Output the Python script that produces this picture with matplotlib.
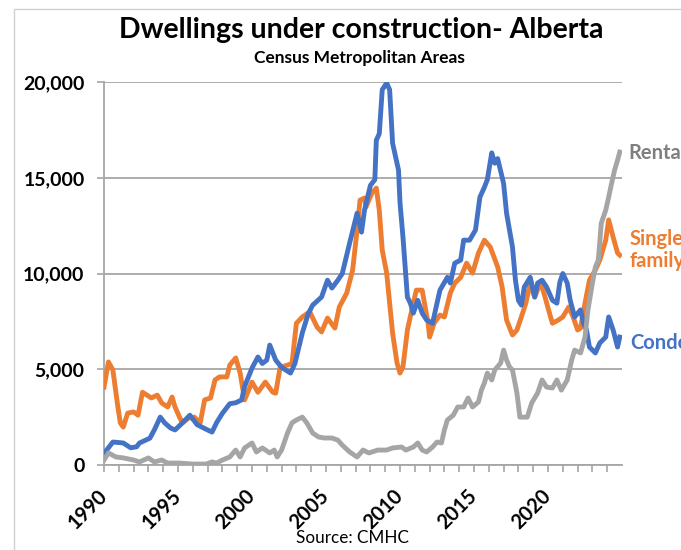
import matplotlib
matplotlib.use('Agg')
import matplotlib.pyplot as plt
from matplotlib.patches import Rectangle

plt.rcParams['font.family'] = ['Lato', 'DejaVu Sans']

# values (decimal year, dwellings)
condo_years = [1990.0, 1990.6, 1991.3, 1991.8, 1992.2, 1992.4, 1993.1, 1993.4, 1993.8, 1994.1,
               1994.5, 1994.8, 1995.3, 1995.8, 1996.3, 1997.0, 1997.3, 1997.6, 1998.0, 1998.5,
               1998.9, 1999.3, 1999.5, 2000.0, 2000.4, 2000.7, 2001.0, 2001.2, 2001.6, 2002.0,
               2002.6, 2002.9, 2003.4, 2003.8, 2004.1, 2004.7, 2005.1, 2005.4, 2005.8, 2006.1,
               2006.6, 2007.1, 2007.4, 2007.6, 2008.0, 2008.3, 2008.4, 2008.6, 2008.8, 2009.1,
               2009.3, 2009.5, 2009.9, 2010.0, 2010.2, 2010.5, 2010.7, 2010.9, 2011.2, 2011.5,
               2011.8, 2012.2, 2012.5, 2012.7, 2013.2, 2013.4, 2013.7, 2014.1, 2014.3, 2014.7,
               2015.1, 2015.4, 2015.7, 2015.9, 2016.2, 2016.4, 2016.6, 2017.0, 2017.2, 2017.6,
               2017.8, 2018.0, 2018.2, 2018.4, 2018.8, 2019.1, 2019.3, 2019.6, 2019.9, 2020.3,
               2020.6, 2020.8, 2021.0, 2021.3, 2021.5, 2021.8, 2022.2, 2022.4, 2022.6, 2022.8,
               2023.2, 2023.5, 2023.9, 2024.1, 2024.4, 2024.7, 2024.85]
condo = [600, 1200, 1150, 900, 950, 1150, 1400, 1830, 2500, 2200,
         1930, 1830, 2200, 2600, 2100, 1830, 1720, 2200, 2700, 3200,
         3250, 3400, 4100, 5060, 5640, 5300, 5480, 6260, 5480, 5100,
         4800, 5300, 6900, 7900, 8350, 8770, 9650, 9240, 9650, 10000,
         11600, 13150, 12160, 13300, 14600, 14900, 16960, 17300, 19600, 19940,
         19600, 16800, 15400, 13700, 11900, 8770, 8450, 7930, 8600, 7930,
         7570, 7400, 8450, 9130, 9800, 9500, 10540, 10700, 11740, 11740,
         12270, 13990, 14500, 14900, 16300, 15760, 16000, 14700, 13150, 11380,
         9650, 8600, 8350, 9300, 9800, 8770, 9500, 9650, 9300, 8600,
         8450, 9550, 10000, 9500, 8600, 7730, 8100, 7400, 7050, 6160,
         5850, 6370, 6680, 7730, 7050, 6160, 6680]

single_years = [1990.0, 1990.3, 1990.6, 1990.9, 1991.1, 1991.3, 1991.6, 1992.0, 1992.3, 1992.6,
                1992.9, 1993.2, 1993.6, 1993.9, 1994.3, 1994.6, 1994.8, 1995.1, 1995.3, 1995.7,
                1996.1, 1996.5, 1996.8, 1997.2, 1997.5, 1997.8, 1998.3, 1998.5, 1998.9, 1999.2,
                1999.5, 2000.0, 2000.4, 2000.9, 2001.4, 2001.6, 2001.9, 2002.4, 2002.7, 2003.0,
                2003.4, 2003.9, 2004.4, 2004.7, 2005.1, 2005.6, 2005.9, 2006.4, 2006.8, 2007.1,
                2007.3, 2007.6, 2007.7, 2008.1, 2008.4, 2008.6, 2008.8, 2009.1, 2009.3, 2009.5,
                2009.8, 2010.0, 2010.2, 2010.5, 2010.8, 2011.1, 2011.5, 2011.7, 2011.9, 2012.0,
                2012.3, 2012.7, 2013.0, 2013.4, 2013.7, 2014.1, 2014.5, 2014.9, 2015.3, 2015.7,
                2016.1, 2016.6, 2016.9, 2017.2, 2017.6, 2017.9, 2018.2, 2018.5, 2018.8, 2019.1,
                2019.5, 2019.8, 2020.1, 2020.3, 2020.7, 2021.0, 2021.4, 2021.7, 2022.0, 2022.2,
                2022.5, 2022.8, 2023.2, 2023.5, 2023.9, 2024.1, 2024.4, 2024.7, 2024.85]
single = [4070, 5380, 4960, 3240, 2200, 1980, 2710, 2770, 2600, 3800,
          3650, 3500, 3650, 3240, 3030, 3550, 3030, 2500, 2200, 2450,
          2500, 2200, 3400, 3500, 4440, 4600, 4600, 5220, 5590, 4800,
          3400, 4330, 3800, 4330, 3800, 3750, 5100, 5220, 5300, 7400,
          7730, 8000, 7200, 6950, 7670, 7150, 8250, 8980, 10180, 12270,
          13830, 13940, 13470, 14200, 14460, 13300, 11220, 10020, 8450, 6890,
          5320, 4800, 5120, 7050, 8100, 9130, 9130, 8250, 7400, 6680,
          7400, 7830, 7730, 8980, 9500, 9800, 10540, 10020, 11070, 11740,
          11380, 10340, 9300, 7570, 6790, 7050, 7730, 8450, 9500, 8770,
          9550, 8770, 7930, 7400, 7570, 7730, 8250, 7730, 7050, 7150,
          8450, 9650, 10180, 10700, 11740, 12800, 11900, 11070, 10960]

rental_years = [1990.0, 1990.3, 1990.8, 1991.3, 1992.0, 1992.4, 1993.0, 1993.4, 1993.9, 1994.3,
                1995.1, 1996.0, 1996.9, 1997.3, 1997.6, 1998.0, 1998.5, 1998.9, 1999.2, 1999.5,
                2000.0, 2000.3, 2000.7, 2001.2, 2001.5, 2001.7, 2002.0, 2002.4, 2002.7, 2003.0,
                2003.4, 2003.7, 2004.1, 2004.5, 2004.9, 2005.4, 2005.8, 2006.1, 2006.6, 2007.1,
                2007.5, 2007.9, 2008.5, 2009.1, 2009.5, 2010.1, 2010.4, 2010.9, 2011.2, 2011.5,
                2011.8, 2012.2, 2012.5, 2012.8, 2013.0, 2013.2, 2013.6, 2013.9, 2014.3, 2014.6,
                2014.9, 2015.3, 2015.5, 2015.7, 2015.9, 2016.2, 2016.4, 2016.8, 2017.0, 2017.2,
                2017.4, 2017.6, 2017.9, 2018.1, 2018.6, 2018.9, 2019.3, 2019.6, 2019.9, 2020.3,
                2020.6, 2020.9, 2021.3, 2021.6, 2021.8, 2022.2, 2022.5, 2022.7, 2023.0, 2023.2,
                2023.4, 2023.6, 2023.9, 2024.1, 2024.3, 2024.5, 2024.7, 2024.85]
rental = [260, 630, 420, 370, 260, 160, 370, 160, 260, 100,
          100, 50, 50, 160, 100, 260, 420, 780, 420, 890,
          1150, 680, 890, 630, 780, 420, 780, 1670, 2200, 2350,
          2500, 2200, 1670, 1460, 1410, 1410, 1300, 1040, 680, 420,
          780, 630, 780, 780, 890, 940, 780, 940, 1150, 780,
          680, 940, 1200, 1150, 1830, 2350, 2600, 3030, 3030, 3500,
          3030, 3290, 3910, 4280, 4800, 4440, 4960, 5320, 6000, 5480,
          5120, 4960, 3760, 2500, 2500, 3240, 3760, 4440, 4070, 4020,
          4440, 3910, 4440, 5480, 6000, 5850, 6680, 8100, 9500, 10340,
          10700, 12630, 13300, 13990, 14720, 15400, 15920, 16340]

yticks = [0, 5000, 10000, 15000, 20000]
xlabel_years = [1990, 1995, 2000, 2005, 2010, 2015, 2020]

blue = '#4472C4'
orange = '#ED7D31'
gray = '#A5A5A5'
gridc = '#A6A6A6'

fig = plt.figure(figsize=(6.81, 5.5), dpi=100)
fig.patches.append(Rectangle((14 / 681, -0.1), 1.2, 1 - 9 / 550 + 0.1, transform=fig.transFigure,
                             fill=False, edgecolor='#D0D0D0', linewidth=1.0))
ax = fig.add_axes([104 / 681, 1 - 465 / 550, (622 - 104) / 681, (465 - 82) / 550])

ax.plot(single_years, single, color=orange, lw=3.5, solid_joinstyle='round', zorder=3)
ax.plot(condo_years, condo, color=blue, lw=3.5, solid_joinstyle='round', zorder=3)
ax.plot(rental_years, rental, color=gray, lw=3.5, solid_joinstyle='round', zorder=4)

ax.set_xlim(1990, 2025)
ax.set_ylim(0, 20000)
ax.set_yticks(yticks)
ax.set_yticklabels([f'{v:,}' for v in yticks], fontsize=14, fontweight='bold')
ax.set_xticks(range(1990, 2025))
ax.set_xticklabels([str(y) if y in xlabel_years else '' for y in range(1990, 2025)],
                   rotation=45, ha='right', va='center', rotation_mode='anchor',
                   fontsize=14.5, fontweight='bold')
ax.tick_params(axis='x', length=5, width=1.2, color=gridc, pad=15)
ax.tick_params(axis='y', length=5, width=1.2, color=gridc, pad=9)
ax.grid(axis='y', color=gridc, lw=1.3)
ax.set_axisbelow(True)
for s in ['top', 'right']:
    ax.spines[s].set_visible(False)
for s in ['left', 'bottom']:
    ax.spines[s].set_color(gridc)
    ax.spines[s].set_linewidth(1.3)

fig.text(361 / 681, 1 - 30 / 550, 'Dwellings under construction- Alberta', ha='center', va='center',
         fontsize=20.5, fontweight='bold')
fig.text(359 / 681, 1 - 58 / 550, 'Census Metropolitan Areas', ha='center', va='center',
         fontsize=12.5, fontweight='bold')
fig.text(352 / 681, 1 - 538 / 550, 'Source: CMHC', ha='center', va='center', fontsize=12.3)

# the reference lets these run past the right edge of the picture
fig.text(628 / 681, 1 - 153 / 550, 'Rental', color='#7F7F7F', ha='left', va='center',
         fontsize=14.5, fontweight='bold')
fig.text(630 / 681, 1 - 250 / 550, 'Single\nfamily', color=orange, ha='left', va='center',
         fontsize=14.5, fontweight='bold', linespacing=1.15)
fig.text(630 / 681, 1 - 343 / 550, 'Condo', color=blue, ha='left', va='center',
         fontsize=14.5, fontweight='bold')

fig.savefig('out.png', dpi=100)
